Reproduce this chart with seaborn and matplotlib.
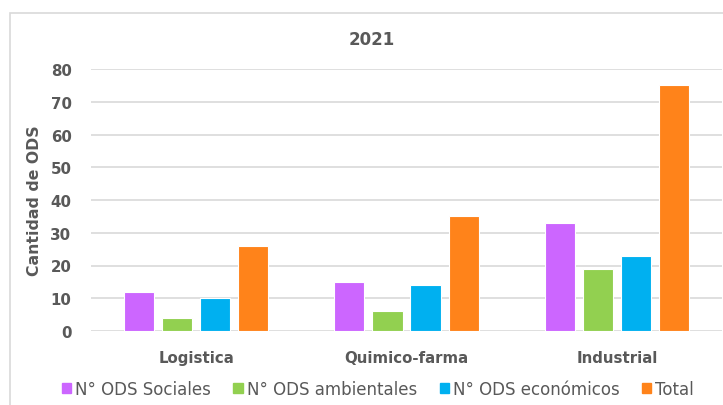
import matplotlib
matplotlib.use("Agg")
import matplotlib.pyplot as plt
import matplotlib.patches as mpatches
import pandas as pd
import seaborn as sns

categories = ["Logistica", "Quimico-farma", "Industrial"]
series = ["N° ODS Sociales", "N° ODS ambientales", "N° ODS económicos", "Total"]
sociales = [12, 15, 33]
ambientales = [4, 6, 19]
economicos = [10, 14, 23]
total = [26, 35, 75]
colors = ["#CC66FF", "#92D050", "#00B0F0", "#FF831A"]
yticks = [0, 10, 20, 30, 40, 50, 60, 70, 80]

rows = []
for name, vals in zip(series, [sociales, ambientales, economicos, total]):
    for cat, v in zip(categories, vals):
        rows.append({"categoria": cat, "serie": name, "valor": v})
df = pd.DataFrame(rows)

sns.set_style("white")
plt.rcParams["font.family"] = ["DejaVu Sans"]
grey = "#595959"

fig = plt.figure(figsize=(7.23, 4.06), dpi=100)
ax = fig.add_axes([91 / 723, 1 - 332 / 406, 631 / 723, (332 - 70) / 406])

sns.barplot(data=df, x="categoria", y="valor", hue="serie", order=categories,
            hue_order=series, palette=colors, width=0.724, gap=0.21,
            edgecolor="white", linewidth=0.8, saturation=1, legend=False, ax=ax)

ax.set_xlim(-0.5, 2.5)
ax.set_ylim(0, 80)
ax.set_yticks(yticks)
ax.yaxis.grid(True, color="#D9D9D9", linewidth=1.2)
ax.set_axisbelow(True)
for s in ax.spines.values():
    s.set_visible(False)
ax.tick_params(axis="both", length=0, colors=grey)
ax.tick_params(axis="y", labelsize=10.8, pad=14)
ax.tick_params(axis="x", labelsize=10.8, pad=14)
for lbl in ax.get_xticklabels() + ax.get_yticklabels():
    lbl.set_fontweight("bold")
ax.set_xlabel("")
ax.set_ylabel("Cantidad de ODS", fontsize=11.3, fontweight="bold", color=grey)
ax.yaxis.set_label_coords(-0.078, 0.5)

fig.text(372 / 723, 1 - 40 / 406, "2021", ha="center", va="center",
         fontsize=12, fontweight="bold", color=grey)

# chart frame (cropped on right and bottom)
fig.patches.append(mpatches.Rectangle((10 / 723, -0.5), 2.0, 1.5 - 14 / 406,
                                      transform=fig.transFigure, fill=False,
                                      edgecolor="#D9D9D9", linewidth=1.2))

handles = [mpatches.Patch(color=c, label=s) for c, s in zip(colors, series)]
fig.legend(handles=handles, loc="center", bbox_to_anchor=(378 / 723, 1 - 390 / 406),
           ncol=4, frameon=False, fontsize=12, handlelength=0.55, handleheight=0.55,
           handletextpad=0.25, columnspacing=1.35, labelcolor=grey,
           borderpad=0, borderaxespad=0)

fig.savefig("out.png", dpi=100)
